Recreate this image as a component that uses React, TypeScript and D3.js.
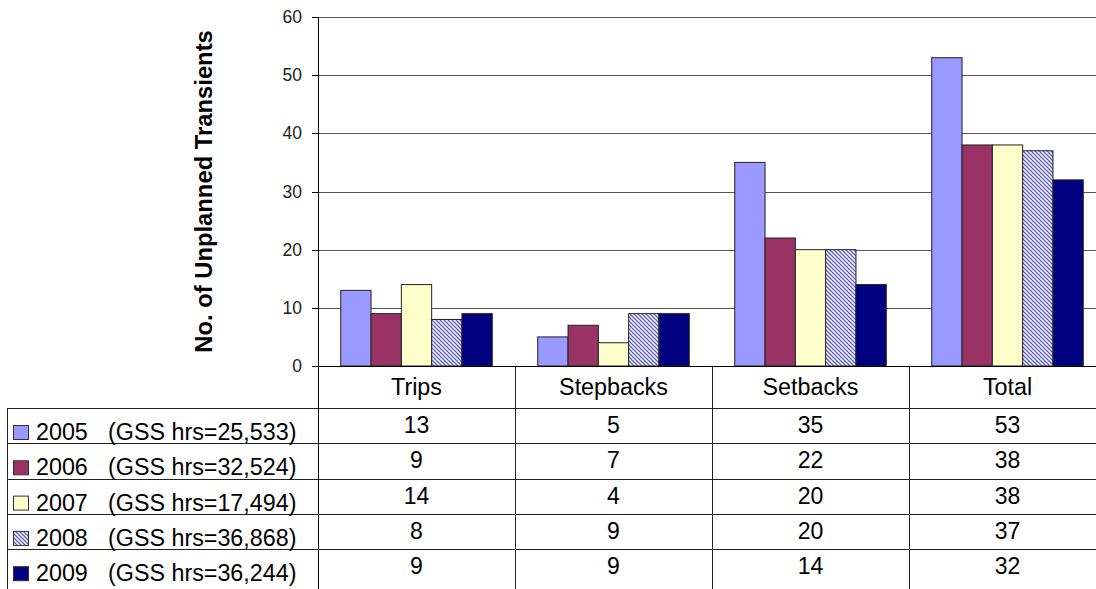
import React from "react";
import * as d3 from "d3";

const categories = ["Trips", "Stepbacks", "Setbacks", "Total"];
const seriesYears = ["2005", "2006", "2007", "2008", "2009"];
const seriesHours = ["(GSS hrs=25,533)", "(GSS hrs=32,524)", "(GSS hrs=17,494)", "(GSS hrs=36,868)", "(GSS hrs=36,244)"];
const values2005 = [13, 5, 35, 53];
const values2006 = [9, 7, 22, 38];
const values2007 = [14, 4, 20, 38];
const values2008 = [8, 9, 20, 37];
const values2009 = [9, 9, 14, 32];
const yTicks = [0, 10, 20, 30, 40, 50, 60];

const seriesValues = [values2005, values2006, values2007, values2008, values2009];
const fills = ["#9999FF", "#993366", "#FFFFCC", "url(#hatch2008)", "#000080"];

const W = 1096;
const H = 589;
const plotLeft = 318;
const plotTop = 17;
const plotBottom = 366;
const catWidth = 197;
const plotRight = plotLeft + catWidth * categories.length;
const tableLeft = 7;
const headerBottom = 408;
const rowH = 35.3;
const FONT = "Arial, 'Liberation Sans', sans-serif";

export default function App() {
  const y = d3.scaleLinear().domain([0, 60]).range([plotBottom, plotTop]);
  const x = d3.scaleBand<string>().domain(categories).range([plotLeft, plotRight]).paddingInner(0).paddingOuter(0);
  const bw = x.bandwidth();
  const barW = bw / 6.5;
  const xs = d3
    .scaleBand<string>()
    .domain(seriesYears)
    .range([barW * 0.75, bw - barW * 0.75])
    .padding(0);

  const px = (v: number) => Math.round(v) + 0.5;
  const rowTop = (i: number) => headerBottom + i * rowH;

  return (
    <svg
      width={W}
      height={H}
      style={{ position: "absolute", left: 0, top: 0, background: "#fff" }}
      fontFamily={FONT}
    >
      <defs>
        <pattern id="hatch2008" patternUnits="userSpaceOnUse" width={4} height={4}>
          <rect width={4} height={4} fill="#ffffff" />
          <path d="M0,0 L4,4 M-1,3 L1,5 M3,-1 L5,1" stroke="#5b5bc8" strokeWidth={1.3} />
        </pattern>
      </defs>

      {/* gridlines */}
      {yTicks.filter((t) => t > 0).map((t) => (
        <line key={t} x1={plotLeft} x2={plotRight} y1={px(y(t))} y2={px(y(t))} stroke="#555" strokeWidth={1} />
      ))}

      {/* bars */}
      {seriesYears.map((yr, si) =>
        categories.map((c, ci) => {
          const v = seriesValues[si][ci];
          const bx = (x(c) as number) + (xs(yr) as number);
          return (
            <rect
              key={yr + c}
              x={bx}
              y={y(v)}
              width={xs.bandwidth()}
              height={y(0) - y(v)}
              fill={fills[si]}
              stroke="#222"
              strokeWidth={1}
            />
          );
        })
      )}

      {/* y axis and ticks */}
      <line x1={px(plotLeft)} x2={px(plotLeft)} y1={plotTop} y2={H} stroke="#000" />
      {yTicks.map((t) => (
        <g key={t}>
          <line x1={plotLeft - 6} x2={plotLeft} y1={px(y(t))} y2={px(y(t))} stroke="#000" />
          <text x={302} y={y(t) + 6} textAnchor="end" fontSize={17.5} fill="#222">
            {t}
          </text>
        </g>
      ))}

      <text
        transform={`translate(212, ${(plotTop + plotBottom) / 2}) rotate(-90)`}
        textAnchor="middle"
        fontSize={23.8}
        fontWeight="bold"
        fill="#000"
      >
        No. of Unplanned Transients
      </text>

      {/* x axis / table header top */}
      <line x1={plotLeft} x2={plotRight} y1={px(plotBottom)} y2={px(plotBottom)} stroke="#000" />

      {/* data table lines */}
      {seriesYears.map((_, i) => (
        <line key={i} x1={tableLeft} x2={plotRight} y1={px(rowTop(i))} y2={px(rowTop(i))} stroke="#222" />
      ))}
      <line x1={px(tableLeft)} x2={px(tableLeft)} y1={headerBottom} y2={H} stroke="#222" />
      {categories.slice(1).map((c) => (
        <line key={c} x1={px(x(c) as number)} x2={px(x(c) as number)} y1={plotBottom} y2={H} stroke="#222" />
      ))}

      {/* category headers */}
      {categories.map((c) => (
        <text key={c} x={(x(c) as number) + bw / 2} y={395} textAnchor="middle" fontSize={23.3} fill="#000">
          {c}
        </text>
      ))}

      {/* legend keys and row labels */}
      {seriesYears.map((yr, i) => (
        <g key={yr}>
          <rect x={13.5} y={rowTop(i) + 17.5} width={15} height={14} fill={fills[i]} stroke="#333" strokeWidth={1} />
          <text x={36} y={rowTop(i) + 32} fontSize={23.3} fill="#000">
            {yr}
          </text>
          <text x={108} y={rowTop(i) + 32} fontSize={23.3} fill="#000">
            {seriesHours[i]}
          </text>
        </g>
      ))}

      {/* table values */}
      {seriesYears.map((yr, si) =>
        categories.map((c, ci) => (
          <text
            key={yr + c}
            x={(x(c) as number) + bw / 2}
            y={rowTop(si) + 25}
            textAnchor="middle"
            fontSize={23}
            fill="#000"
          >
            {seriesValues[si][ci]}
          </text>
        ))
      )}
    </svg>
  );
}
